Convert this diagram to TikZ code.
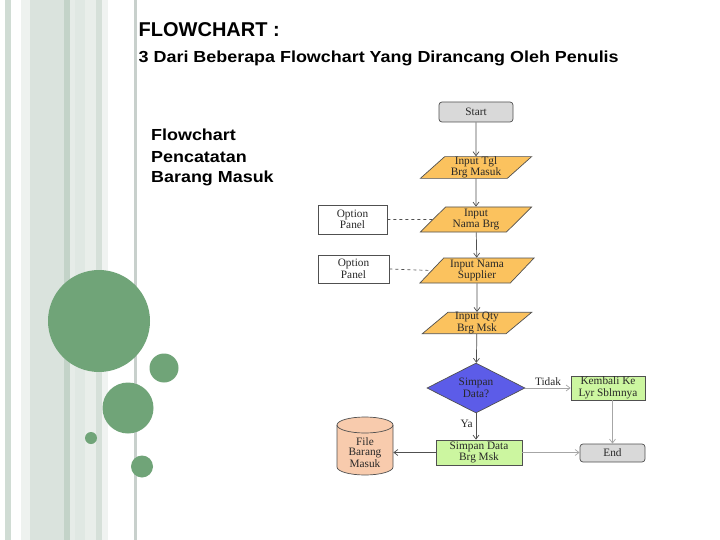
\documentclass[tikz,border=0pt]{standalone}
\usepackage{fontspec}
\setmainfont{Liberation Serif}
\newfontfamily\arialfont{Liberation Sans}
\newfontfamily\widearial[FakeStretch=1.12]{Liberation Sans}
\usetikzlibrary{shapes.geometric,arrows.meta}
\definecolor{circgreen}{RGB}{112,164,120}
\definecolor{ioorange}{RGB}{251,194,94}
\definecolor{decblue}{RGB}{92,92,232}
\definecolor{procgreen}{RGB}{204,246,160}
\definecolor{termgray}{RGB}{217,217,217}
\definecolor{peach}{RGB}{248,203,173}
\definecolor{linegray}{RGB}{80,80,80}
\definecolor{txtgray}{RGB}{40,40,40}
\begin{document}
\begin{tikzpicture}[x=1pt,y=-1pt,
  fc/.style={draw=linegray,line width=0.7pt,inner sep=0pt,align=center,text=txtgray,font=\fontsize{11.3}{11.5}\selectfont},
  term/.style={fc,rounded corners=3pt,fill=termgray},
  io/.style={fc,trapezium,trapezium left angle=48,trapezium right angle=132,trapezium stretches=true,fill=ioorange},
  proc/.style={fc,rectangle,fill=procgreen},
  dec/.style={fc,diamond,fill=decblue,aspect=1.96},
  opt/.style={fc,rectangle,fill=white},
  flow/.style={draw=linegray,line width=0.7pt,-{Straight Barb[length=4pt,width=6pt]}},
  lflow/.style={draw=gray!70,line width=0.7pt,-{Straight Barb[length=4pt,width=6pt]}},
  dot/.style={fill=circgreen},
  big/.style={anchor=base west,align=left,inner sep=0pt}
]
\useasboundingbox (0,0) rectangle (720,540);
\fill[white] (0,0) rectangle (720,540);
% stripes
\fill[fill={rgb,255:red,208;green,220;blue,212}] (5,0) rectangle (11,540);
\fill[fill={rgb,255:red,238;green,242;blue,239}] (21,0) rectangle (30,540);
\fill[fill={rgb,255:red,218;green,227;blue,221}] (30,0) rectangle (64,540);
\fill[fill={rgb,255:red,195;green,211;blue,200}] (64,0) rectangle (70,540);
\fill[fill={rgb,255:red,230;green,236;blue,232}] (70,0) rectangle (75,540);
\fill[fill={rgb,255:red,224;green,232;blue,227}] (75,0) rectangle (85,540);
\fill[fill={rgb,255:red,233;green,238;blue,234}] (85,0) rectangle (96,540);
\fill[fill={rgb,255:red,214;green,224;blue,217}] (96,0) rectangle (102,540);
\fill[fill={rgb,255:red,240;green,243;blue,241}] (102,0) rectangle (108,540);
\fill[fill={rgb,255:red,200;green,208;blue,204}] (134,0) rectangle (137,540);
% circles
\fill[dot] (99,321) circle (51);
\fill[dot] (164,368) circle (14.5);
\fill[dot] (128,408) circle (25.5);
\fill[dot] (91,438) circle (6);
\fill[dot] (142,466.5) circle (11);
% titles
\node[big,font=\arialfont\bfseries\fontsize{20}{22}\selectfont] (t1) at (138.5,36.5) {FLOWCHART :};
\node[big,font=\widearial\bfseries\fontsize{16}{20}\selectfont] (t2) at (138.5,63) {3 Dari Beberapa Flowchart Yang Dirancang Oleh Penulis};
\node[big,font=\widearial\bfseries\fontsize{16}{21}\selectfont] (t3) at (151,183) {Flowchart\\Pencatatan\\Barang Masuk};
% flowchart
\node[term,minimum width=74pt,minimum height=20pt] (start) at (476,112) {Start};
\node[io,minimum width=112pt,minimum height=21pt] (in1) at (476,167.5) {Input Tgl\\Brg Masuk};
\node[io,minimum width=112pt,minimum height=25pt] (in2) at (476,219.5) {Input\\Nama Brg};
\node[io,minimum width=115pt,minimum height=25pt] (in3) at (477,270.5) {Input Nama\\Supplier};
\node[io,minimum width=110pt,minimum height=20pt] (in4) at (477,323) {Input Qty\\Brg Msk};
\node[dec,minimum width=98pt,minimum height=50pt] (dec) at (476,388) {Simpan\\Data?};
\node[proc,minimum width=74pt,minimum height=24pt] (kem) at (608,388) {Kembali Ke\\Lyr Sblmnya};
\node[proc,minimum width=86pt,minimum height=25pt] (sim) at (479,452.5) {Simpan Data\\Brg Msk};
\node[term,minimum width=65pt,minimum height=18pt] (end) at (612.5,453) {End};
\node[opt,minimum width=69pt,minimum height=29pt] (opt1) at (352.5,219.5) {Option\\Panel};
\node[opt,minimum width=71pt,minimum height=28pt] (opt2) at (353.5,269) {Option\\Panel};
% cylinder
\fill[peach,draw=linegray,line width=0.7pt] (337,425) -- (337,467) arc[start angle=180,end angle=0,x radius=28,y radius=8] -- (393,425) arc[start angle=0,end angle=-180,x radius=28,y radius=8] -- cycle;
\draw[linegray,line width=0.7pt] (337,425) arc[start angle=180,end angle=0,x radius=28,y radius=8];
\node[fc,draw=none,minimum width=56pt,minimum height=50pt,font=\fontsize{11.3}{10}\selectfont] (cyl) at (365,452.5) {File\\Barang\\Masuk};
% connectors
\draw[flow] (start) -- (in1);
\draw[flow] (in1) -- (in2);
\draw[flow] (in2) -- (in3);
\draw[flow] (in3) -- (in4);
\draw[flow] (in4) -- (dec);
\draw[lflow] (dec.east) -- node[above,fc,draw=none,inner sep=2pt] {Tidak} (kem.west);
\draw[flow] (dec.south) -- node[left,fc,draw=none,inner sep=3pt,pos=0.4] {Ya} (dec.south |- sim.north);
\draw[lflow] (end.north |- kem.south) -- (end.north);
\draw[flow] (sim.west) -- (sim.west -| cyl.east);
\draw[lflow] (sim.east) -- (sim.east -| end.west);
\draw[linegray,line width=0.7pt,dashed] (opt1.east) -- (in2.west);
\draw[linegray,line width=0.7pt,dashed] (opt2.east) -- (in3.west);
\end{tikzpicture}
\end{document}
